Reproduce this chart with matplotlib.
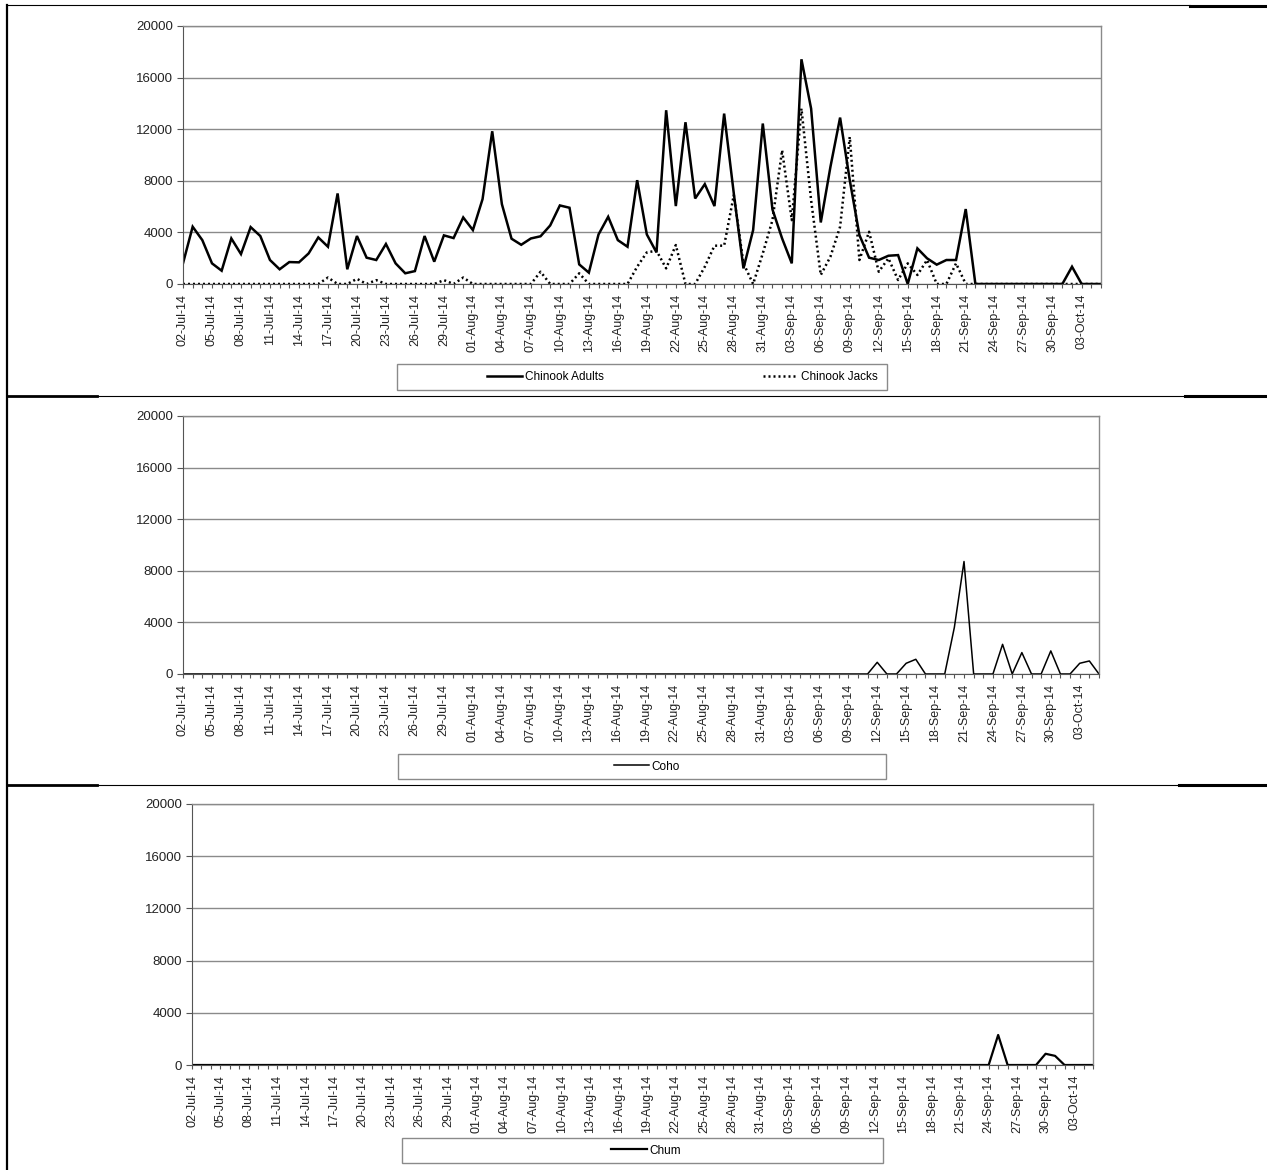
import numpy as np
import pandas as pd
import matplotlib
matplotlib.use('Agg')
import matplotlib.pyplot as plt
from matplotlib.lines import Line2D
from matplotlib.patches import Rectangle

plt.rcParams['font.family'] = ['Liberation Sans', 'DejaVu Sans']

# daily counts, 02-Jul-14 .. 05-Oct-14
dates = pd.date_range('2014-07-02', periods=96)
date_labels = [d.strftime('%d-%b-%y') for d in dates]

chinook_adults = [
    1600, 4440, 3400, 1600, 1030, 3530, 2320, 4410, 3720, 1860,
    1140, 1700, 1680, 2370, 3610, 2890, 7020, 1140, 3720, 2040,
    1860, 3100, 1600, 830, 1000, 3720, 1730, 3770, 3560, 5160,
    4180, 6580, 11840, 6190, 3510, 3040, 3530, 3700, 4540, 6090,
    5910, 1520, 880, 3840, 5210, 3400, 2890, 8050, 3840, 2450,
    13470, 6040, 12540, 6630, 7740, 6040, 13210, 7020, 1210, 4180,
    12440, 5780, 3530, 1600, 17420, 13600, 4770, 9080, 12900, 8050,
    3790, 2040, 1860, 2190, 2240, 0, 2760, 1990, 1500, 1860,
    1860, 5810, 0, 0, 0, 0, 0, 0, 0, 0,
    0, 0, 1340, 0, 0, 0]

chinook_jacks = [
    0, 0, 0, 0, 0, 0, 0, 0, 0, 0,
    0, 0, 0, 0, 0, 500, 0, 0, 400, 0,
    300, 0, 0, 0, 0, 0, 0, 300, 0, 500,
    0, 0, 0, 0, 0, 0, 0, 950, 0, 0,
    0, 830, 0, 0, 0, 0, 0, 1340, 2450, 2580,
    1210, 3020, 0, 0, 1340, 2970, 2970, 6890, 1600, 0,
    2370, 4950, 10370, 4950, 13600, 6500, 700, 2120, 4440, 11400,
    1860, 4050, 950, 1990, 310, 1600, 700, 1860, 0, 0,
    1600, 0, 0, 0, 0, 0, 0, 0, 0, 0,
    0, 0, 0, 0, 0, 0]

coho = [0] * 96
coho_days = [72, 75, 76, 80, 81, 85, 87, 90, 93, 94]
coho_vals = [906, 830, 1140, 3620, 8720, 2300, 1660, 1790, 830, 1010]
for d, v in zip(coho_days, coho_vals):
    coho[d] = v

chum = [0] * 96
chum_days = [85, 90, 91]
chum_vals = [2300, 860, 700]
for d, v in zip(chum_days, chum_vals):
    chum[d] = v

y_ticks = [0, 4000, 8000, 12000, 16000, 20000]

W, H = 1267, 1170
fig = plt.figure(figsize=(W / 100, H / 100), dpi=100)


def px_rect(x0, y0, x1, y1):
    # pixel box (top-left origin) -> figure fraction [l, b, w, h]
    return [x0 / W, 1 - y1 / H, (x1 - x0) / W, (y1 - y0) / H]


def make_axes(box):
    ax = fig.add_axes(px_rect(*box))
    x = np.arange(len(date_labels))
    ax.set_xlim(0, len(x) - 1)
    ax.set_ylim(0, 20000)
    ax.set_yticks(y_ticks)
    ax.set_yticklabels([str(v) for v in y_ticks], fontsize=9.5, color='#222')
    ax.set_xticks(x[::3])
    ax.set_xticklabels(date_labels[::3], rotation=90, fontsize=9, color='#222')
    ax.set_xticks(x, minor=True)
    ax.tick_params(axis='x', which='both', length=3, width=0.8, color='#555', pad=4)
    ax.tick_params(axis='y', length=4, width=0.8, color='#555', pad=3)
    ax.grid(axis='y', color='#8a8a8a', lw=1.0)
    ax.set_axisbelow(True)
    for s in ['top', 'right']:
        ax.spines[s].set_color('#8a8a8a')
        ax.spines[s].set_linewidth(1.0)
    ax.spines['left'].set_color('#555')
    ax.spines['bottom'].set_color('#555')
    return ax, x


def legend_box(box, cx, handles, labels, spacing):
    x0, y0, x1, y1 = box
    fig.patches.append(Rectangle((x0 / W, 1 - y1 / H), (x1 - x0) / W, (y1 - y0) / H,
                                 transform=fig.transFigure, fill=False,
                                 edgecolor='#8a8a8a', lw=1.0))
    fig.legend(handles, labels, loc='center', ncol=len(labels),
               bbox_to_anchor=(cx / W, 1 - (y0 + y1) / 2 / H),
               frameon=False, fontsize=8.5, handlelength=3.0, handletextpad=0.2,
               columnspacing=spacing)


# panel 1 - Chinook
ax1, x = make_axes((183, 26, 1101, 284))
h1, = ax1.plot(x, chinook_adults, color='black', lw=1.8, solid_joinstyle='miter')
h2, = ax1.plot(x, chinook_jacks, color='black', lw=1.8, ls=(0, (0.8, 1.2)))
legend_box((397, 364, 887, 390), 682, [h1, h2], ['Chinook Adults', 'Chinook Jacks'], 13.5)

# panel 2 - Coho
ax2, x = make_axes((183, 416, 1099, 674))
h3, = ax2.plot(x, coho, color='black', lw=1.1)
legend_box((398, 754, 886, 779), 647, [h3], ['Coho'], 2)

# panel 3 - Chum
ax3, x = make_axes((192, 804, 1093, 1065))
h4, = ax3.plot(x, chum, color='black', lw=1.6)
legend_box((402, 1138, 883, 1163), 646, [h4], ['Chum'], 2)


# table borders
def hline(y, x0, x1, lw):
    fig.lines.append(Line2D([x0 / W, x1 / W], [1 - y / H, 1 - y / H],
                            transform=fig.transFigure, color='black', lw=lw))


hline(5, 8, 1190, 0.8)
hline(6, 1190, 1267, 2.2)
for y, xa, xb in [(396, 97, 1185), (785, 97, 1179)]:
    hline(y, 8, xa, 2.0)
    hline(y, xa, xb, 0.8)
    hline(y, xb, 1267, 2.2)
fig.lines.append(Line2D([7 / W, 7 / W], [1 - 5 / H, 0], transform=fig.transFigure,
                        color='black', lw=1.6))

fig.savefig('out.png', dpi=100)
